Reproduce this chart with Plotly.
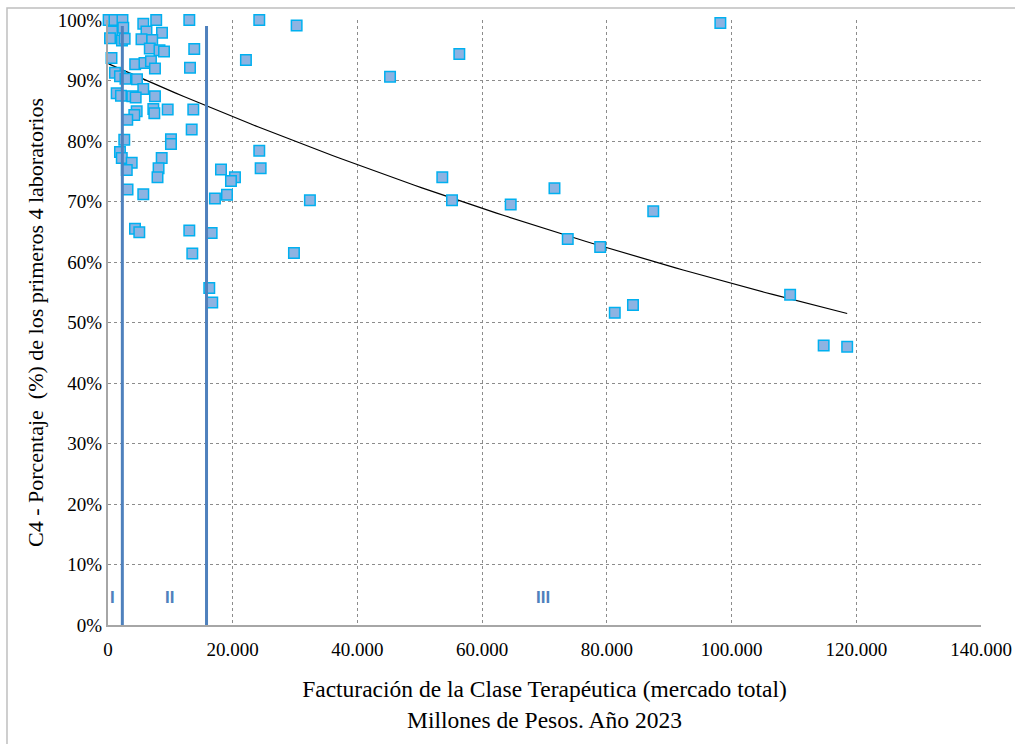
import numpy as np
import plotly.graph_objects as go

# Facturacion (millones de pesos) y C4 (%) por clase terapeutica
facturacion = [
    100, 1040, 2320, 5660, 7730, 13040, 24260, 30250,
    640, 320, 2450, 2240, 2670, 6170, 8660, 5370, 7090,
    6700, 8260, 8980, 13830, 560, 4360, 5850, 6890, 7530, 13150, 22120,
    1120, 1920, 2800, 4650, 45230, 5660, 1390, 2080, 3900, 4440, 7530,
    7270, 7430, 9570, 13680, 4600, 4220, 3090, 13420, 2610, 10100, 10100,
    1920, 2210, 3800, 8610, 8110, 7940, 3010, 18120, 24260, 24480,
    20360, 19720, 19080, 17150, 32380, 3130, 5660, 4330, 5020, 13040,
    16620, 13520, 29820, 16240, 16720,
    98200, 56340, 53610, 55170, 64580, 71600, 73730, 78930, 87440,
    81270, 84190, 109390, 114770, 118540,
]
c4 = [
    100.0, 100.0, 100.0, 99.4, 100.0, 100.0, 100.0, 99.1,
    98.1, 97.0, 98.7, 96.6, 96.9, 98.1, 97.9, 96.8, 96.7,
    95.3, 95.0, 94.8, 95.2, 93.7, 92.7, 92.9, 93.2, 92.0, 92.1, 93.4,
    91.3, 90.7, 90.3, 90.2, 90.6, 88.6, 87.9, 87.5, 87.4, 87.2, 87.4,
    85.3, 84.6, 85.2, 85.2, 84.9, 84.3, 83.5, 81.9, 80.2, 80.3, 79.5,
    78.2, 77.2, 76.4, 77.2, 75.5, 74.0, 75.2, 75.3, 78.4, 75.5,
    74.0, 73.4, 71.1, 70.5, 70.2, 72.0, 71.2, 65.5, 64.9, 65.2,
    64.8, 61.4, 61.5, 55.7, 53.3,
    99.5, 94.4, 74.0, 70.2, 69.5, 72.2, 63.8, 62.5, 68.4,
    51.6, 52.9, 54.6, 46.2, 46.0,
]

# tendencia exponencial y = a * exp(b * x), coeficientes
tendencia_a = 0.928
tendencia_b = -4.97e-6

# limites entre grupos I / II / III
limites = [2300, 15800]
grupos = ['I', 'II', 'III']
grupos_x = [800, 9800, 69700]

x_ticks = [0, 20000, 40000, 60000, 80000, 100000, 120000, 140000]
x_labels = ['0', '20.000', '40.000', '60.000', '80.000', '100.000', '120.000', '140.000']
y_ticks = [i / 10 for i in range(11)]
y_labels = ['%d%%' % (i * 10) for i in range(11)]

x = np.array(facturacion, dtype=float)
y = np.array(c4) / 100.0

xt = np.linspace(x.min(), x.max(), 100)
yt = tendencia_a * np.exp(tendencia_b * xt)

fig = go.Figure()
fig.add_trace(go.Scatter(x=xt, y=yt, mode='lines',
                         line=dict(color='black', width=1.2), hoverinfo='skip'))
fig.add_trace(go.Scatter(x=x, y=y, mode='markers', cliponaxis=False,
                         marker=dict(symbol='square', size=10.5, color='#8DB3E2',
                                     line=dict(color='#00B0F0', width=1.5))))

for lim in limites:
    fig.add_shape(type='line', x0=lim, x1=lim, y0=-0.007, y1=0.99, xref='x', yref='y',
                  line=dict(color='#4F81BD', width=3))

for g, gx in zip(grupos, grupos_x):
    fig.add_annotation(x=gx, y=0.046, text='<b>%s</b>' % g, showarrow=False,
                       font=dict(family='Liberation Sans', size=17, color='#4F81BD'))

# borde del area del grafico
fig.add_shape(type='rect', xref='paper', yref='paper', x0=-0.1157, x1=1.1, y0=-0.3, y1=1.0198,
              line=dict(color='#BFBFBF', width=1.5), layer='below')

fig.update_layout(
    width=1015, height=744,
    margin=dict(l=108, r=34, t=20, b=119),
    paper_bgcolor='white', plot_bgcolor='white',
    showlegend=False,
    font=dict(family='Liberation Serif', size=19, color='black'),
    xaxis=dict(range=[0, 140000], tickvals=x_ticks, ticktext=x_labels, automargin=False,
               showgrid=True, gridcolor='#8C8C8C', griddash='dot', gridwidth=1,
               showline=True, linecolor='#A6A6A6', linewidth=2, zeroline=False,
               ticks='', ticklabelstandoff=6,
               title=dict(text='Facturación de la Clase Terapéutica (mercado total)<br>Millones de Pesos. Año 2023',
                          font=dict(size=23.5), standoff=22)),
    yaxis=dict(range=[0, 1], tickvals=y_ticks, ticktext=y_labels, automargin=False,
               showgrid=True, gridcolor='#8C8C8C', griddash='dot', gridwidth=1,
               showline=True, linecolor='#A6A6A6', linewidth=2, zeroline=False,
               ticks='',
               title=dict(text='C4 - Porcentaje  (%) de los primeros 4 laboratorios',
                          font=dict(size=22), standoff=8)),
)

fig.write_html('out.html', config={'displayModeBar': False},
               post_script="document.body.style.margin='0px';")
